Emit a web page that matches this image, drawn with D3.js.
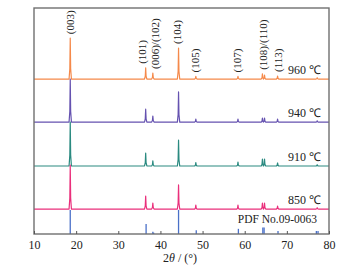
<!DOCTYPE html>
<html><head><meta charset="utf-8">
<script src="https://cdn.jsdelivr.net/npm/d3@7"></script>
<style>body{margin:0;background:#fff}svg{display:block}text{font-family:"Liberation Serif","Times New Roman",serif;fill:#222}</style>
</head><body><svg id="c" width="360" height="270"></svg>
<script>
// Peak positions (2θ, degrees)
const peakPos = [18.6, 36.5, 38.2, 44.3, 48.4, 58.4, 64.2, 64.7, 67.8, 77.2];
// Peak heights per pattern (relative intensity units)
const h960 = [95, 26, 14, 72, 6, 6, 12, 9, 7, 3];
const h940 = [100, 30, 14, 70, 7, 7, 9, 9, 7, 3];
const h910 = [102, 30, 12, 60, 8, 9, 16, 16, 7, 3];
const h850 = [102, 30, 14, 56, 9, 9, 14, 14, 7, 3];
// Reference card PDF No.09-0063 sticks
const pdfPos = [18.6, 36.6, 38.2, 38.4, 44.3, 48.5, 58.5, 64.3, 64.6, 67.9, 77.0, 77.4];
const pdfH = [56, 23, 5, 3, 56, 9, 12, 15, 15, 7, 7, 7];
// Vertical offsets of patterns
const offsets = [360, 260, 158, 58];
const seriesNames = ["960 ℃", "940 ℃", "910 ℃", "850 ℃"];
const seriesColors = ["#f5894a", "#6552b0", "#2a8a80", "#ea2f7b"];
const pdfColor = "#4a70c8";
const pdfLabel = "PDF No.09-0063";
// hkl labels and their 2θ positions
const hklLabels = ["(003)", "(101)", "(006)/(102)", "(104)", "(105)", "(107)", "(108)/(110)", "(113)"];
const hklPos = [18.55, 35.55, 38.7, 44.05, 48.3, 58.2, 64.35, 67.9];
const hklPeakIdx = [0, 1, 2, 3, 4, 5, 6, 8];
const xTicks = [10, 20, 30, 40, 50, 60, 70, 80];

const heights = [h960, h940, h910, h850];
const svg = d3.select("#c");
const m = {l: 34, r: 329, t: 8, b: 234};
const x = d3.scaleLinear().domain([10, 80]).range([m.l, m.r]);
const y = d3.scaleLinear().domain([0, 525]).range([m.b, m.t]);
const hw = 0.28;

function pattern(hs, off) {
  const pts = [[10, off]];
  peakPos.forEach((p, i) => {
    pts.push([p - hw, off]);
    pts.push([p - hw * 0.35, off + hs[i] * 0.25]);
    pts.push([p, off + hs[i]]);
    pts.push([p + hw * 0.35, off + hs[i] * 0.25]);
    pts.push([p + hw, off]);
  });
  pts.push([80, off]);
  pts.sort((a, b) => a[0] - b[0]);
  return pts;
}
const line = d3.line().x(d => x(d[0])).y(d => y(d[1]));

heights.forEach((hs, k) => {
  svg.append("path").attr("d", line(pattern(hs, offsets[k])))
    .attr("fill", "none").attr("stroke", seriesColors[k]).attr("stroke-width", 1.2)
    .attr("stroke-linejoin", "round");
  svg.append("text").attr("x", 321).attr("y", y(offsets[k]) - 5)
    .attr("text-anchor", "end").attr("font-size", 12).text(seriesNames[k]);
});

svg.selectAll("line.pdf").data(pdfPos).enter().append("line")
  .attr("x1", d => x(d)).attr("x2", d => x(d))
  .attr("y1", y(0)).attr("y2", (d, i) => y(pdfH[i]))
  .attr("stroke", pdfColor).attr("stroke-width", 1.3);
svg.append("text").attr("x", 317).attr("y", 223).attr("text-anchor", "end")
  .attr("font-size", 11.5).text(pdfLabel);

hklLabels.forEach((t, i) => {
  const top = y(offsets[0] + h960[hklPeakIdx[i]]) - 4;
  svg.append("text").attr("transform", `translate(${x(hklPos[i]) + 4},${top}) rotate(-90)`)
    .attr("font-size", 11).text(t);
});

// frame
svg.append("rect").attr("x", m.l).attr("y", m.t).attr("width", m.r - m.l).attr("height", m.b - m.t)
  .attr("fill", "none").attr("stroke", "#707070").attr("stroke-width", 1.4);
const ax = svg.append("g").attr("transform", `translate(0,${m.b})`)
  .call(d3.axisBottom(x).tickValues(xTicks).tickSizeInner(-3).tickSizeOuter(0).tickPadding(6));
ax.select(".domain").remove();
ax.selectAll("line").attr("stroke", "#555");
ax.selectAll("text").attr("font-size", 12).attr("font-family", "Liberation Serif").attr("fill", "#222");

const tl = svg.append("text").attr("x", 180).attr("y", 262).attr("text-anchor", "middle").attr("font-size", 12);
tl.append("tspan").text("2");
tl.append("tspan").attr("font-style", "italic").text("θ");
tl.append("tspan").text(" / (°)");
</script></body></html>
